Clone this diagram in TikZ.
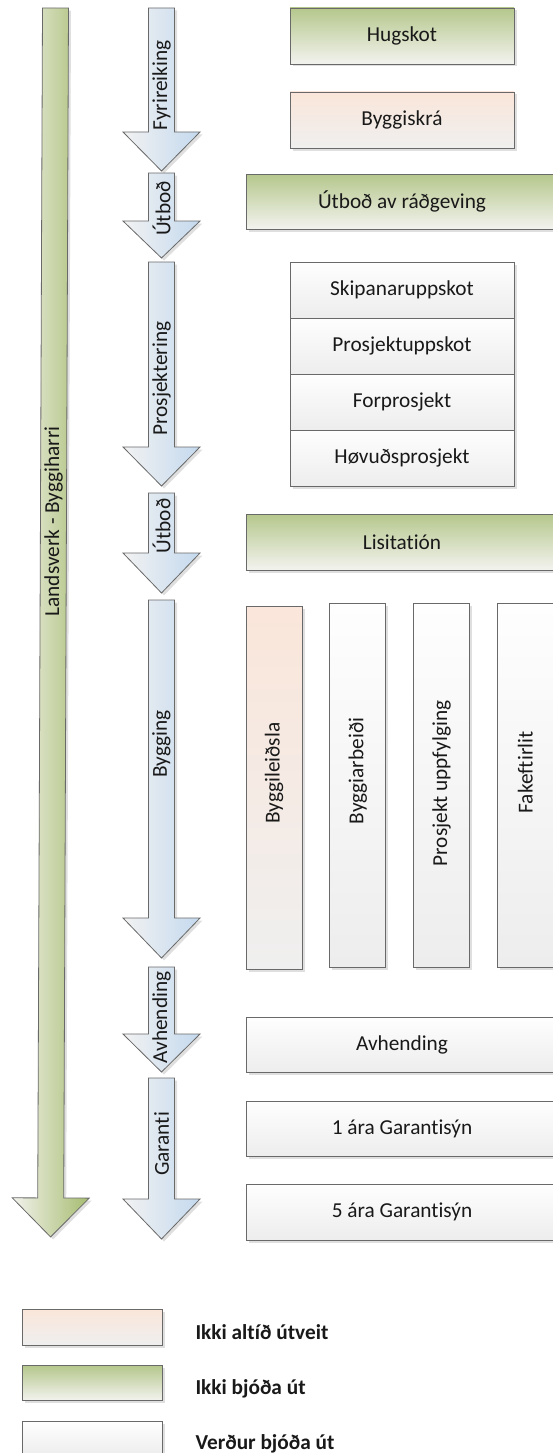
\documentclass[tikz,border=0pt]{standalone}
\usepackage{fontspec}
\setmainfont{Carlito}[Ligatures=NoCommon]
\usetikzlibrary{shadows}

\definecolor{rand}{RGB}{105,105,105}
\definecolor{tekst}{RGB}{25,25,25}
\definecolor{graentop}{RGB}{181,199,140}
\definecolor{graenbot}{RGB}{243,243,239}
\definecolor{rositop}{RGB}{250,230,218}
\definecolor{rosibot}{RGB}{239,239,239}
\definecolor{hvittop}{RGB}{254,254,254}
\definecolor{hvitbot}{RGB}{237,237,237}
\definecolor{blaavinstri}{RGB}{242,242,242}
\definecolor{blaahogri}{RGB}{196,217,238}
\definecolor{pilvinstri}{RGB}{242,242,236}
\definecolor{pilhogri}{RGB}{166,188,112}

\tikzset{
  every node/.append style={font=\fontsize{21.3}{25}\selectfont, text=tekst},
  skuggi/.style={drop shadow={shadow xshift=2.5pt, shadow yshift=-2.5pt, opacity=0.25, fill=black!50}},
  kassi/.style={draw=rand, line width=0.9pt, inner sep=0pt, skuggi},
  graenur/.style={kassi, top color=graentop, bottom color=graenbot},
  rosa/.style={kassi, top color=rositop, bottom color=rosibot},
  hvitur/.style={kassi, top color=hvittop, bottom color=hvitbot},
  fasupil/.style={draw=rand, line width=0.8pt, left color=blaavinstri, right color=blaahogri, skuggi},
  hovudpil/.style={draw=rand, line width=0.8pt, left color=pilvinstri, right color=pilhogri, skuggi},
  pilsk/.style={rotate=90, inner sep=0pt},
  forklaring/.style={anchor=base west, font=\fontsize{21.3}{25}\selectfont\bfseries}
}

% down arrow: centre x, top, head base, tip
\newcommand{\pil}[5][fasupil]{%
  \draw[#1] (#2-13,#3) -- (#2+13,#3) -- (#2+13,#4) -- (#2+38.5,#4)
    -- (#2,#5) -- (#2-38.5,#4) -- (#2-13,#4) -- cycle;}

\begin{document}
\begin{tikzpicture}[x=1pt,y=-1pt]
\useasboundingbox (0,0) rectangle (553,1453);

% long arrow on the left
\begin{scope}[rotate around={-0.23:(55.5,8)}]
\pil[hovudpil]{55.5}{8}{1198}{1237}
\node[pilsk] (landsverk) at (55.5,521.5) {Landsverk - Byggiharri};
\end{scope}

% phases
\pil{161.5}{8}{132}{171}
\node[pilsk] (fyrireiking) at (161.5,85.5) {Fyrireiking};
\pil{161.5}{173}{221}{258}
\node[pilsk] (utbod1) at (161.5,208.5) {Útboð};
\pil{161.5}{262}{447}{486}
\node[pilsk] (prosjektering) at (161.5,378.5) {Prosjektering};
\pil{161.5}{493}{553}{593}
\node[pilsk] (utbod2) at (161.5,526) {Útboð};
\pil{161.5}{600}{918}{958}
\node[pilsk] (bygging) at (161.5,744) {Bygging};
\pil{161.5}{967}{1034}{1072}
\node[pilsk] (avhending) at (161.5,1017.5) {Avhending};
\pil{161.5}{1078}{1199}{1239}
\node[pilsk] (garanti) at (161.5,1144) {Garanti};

% boxes
\node[graenur, minimum width=224pt, minimum height=56pt] (hugskot) at (402,36) {Hugskot};
\node[rosa, minimum width=224pt, minimum height=56pt] (byggiskra) at (402,120) {Byggiskrá};
\node[graenur, minimum width=312pt, minimum height=55pt] (radgeving) at (402,201.5) {Útboð av ráðgeving};

\node[hvitur, minimum width=224pt, minimum height=56pt] (skipan) at (402,290) {Skipanaruppskot};
\node[hvitur, minimum width=224pt, minimum height=56pt] (prosjuppskot) at (402,346) {Prosjektuppskot};
\node[hvitur, minimum width=224pt, minimum height=56pt] (forprosjekt) at (402,402) {Forprosjekt};
\node[hvitur, minimum width=224pt, minimum height=56pt] (hovudprosjekt) at (402,458) {Høvuðsprosjekt};

\node[graenur, minimum width=312pt, minimum height=56pt] (lisitation) at (402,542) {Lisitatión};

\node[rosa, minimum width=56pt, minimum height=363pt] (byggileidsla) at (274,787.5) {};
\node[hvitur, minimum width=56pt, minimum height=364pt] (byggiarbeidi) at (357.7,785) {};
\node[hvitur, minimum width=56pt, minimum height=364pt] (uppfylging) at (441.6,785) {};
\node[hvitur, minimum width=56pt, minimum height=364pt] (fakeftirlit) at (525.4,785) {};
\node[pilsk] (t-byggileidsla) at (274,773) {Byggileiðsla};
\node[pilsk] (t-byggiarbeidi) at (357.7,771) {Byggiarbeiði};
\node[pilsk] (t-uppfylging) at (441.6,783.5) {Prosjekt uppfylging};
\node[pilsk] (t-fakeftirlit) at (525.4,772.5) {Fakeftirlit};

\node[hvitur, minimum width=312pt, minimum height=55pt] (avhendingkassi) at (402,1044.5) {Avhending};
\node[hvitur, minimum width=312pt, minimum height=55pt] (garanti1) at (402,1128.5) {1 ára Garantisýn};
\node[hvitur, minimum width=312pt, minimum height=56pt] (garanti5) at (402,1212) {5 ára Garantisýn};

% legend
\node[rosa, minimum width=140pt, minimum height=36pt] (lykil-rosa) at (92,1327) {};
\node[forklaring] (tekst-rosa) at (192,1339) {Ikki altíð útveit};
\node[graenur, minimum width=140pt, minimum height=35pt] (lykil-graen) at (92,1383) {};
\node[forklaring] (tekst-graen) at (192,1394) {Ikki bjóða út};
\node[hvitur, minimum width=140pt, minimum height=35pt] (lykil-hvit) at (92,1438.5) {};
\node[forklaring] (tekst-hvit) at (192,1449) {Verður bjóða út};

\end{tikzpicture}
\end{document}
